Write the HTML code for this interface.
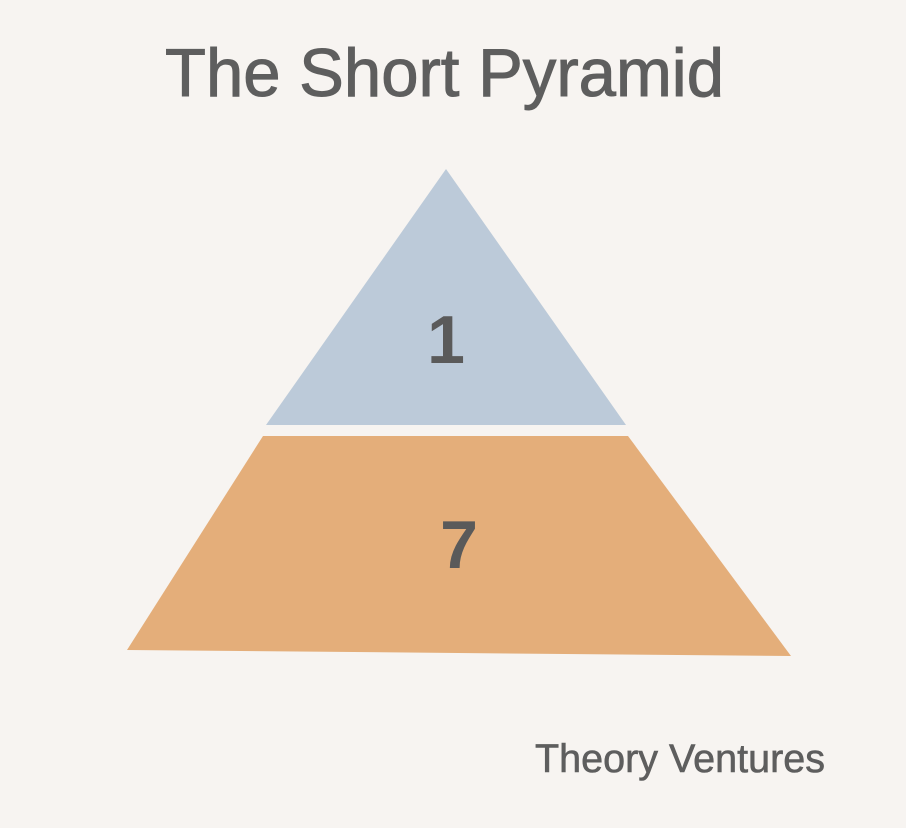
<!DOCTYPE html>
<html><head><meta charset="utf-8"><style>
html,body{margin:0;padding:0;background:#f7f4f1;}
svg{display:block;}
</style></head><body>
<svg width="906" height="828" viewBox="0 0 906 828" xmlns="http://www.w3.org/2000/svg">
<rect width="906" height="828" fill="#f7f4f1"/>
<text x="165" y="96" font-family="Liberation Sans, sans-serif" font-size="68" fill="#5e5e5e" stroke="#5e5e5e" stroke-width="1" textLength="559" lengthAdjust="spacingAndGlyphs">The Short Pyramid</text>
<polygon points="446,169 626,425 266,425" fill="#bccad9"/>
<polygon points="263,436 628,436 791,656 127,650" fill="#e4ae7a"/>
<text x="446" y="363" text-anchor="middle" font-family="Liberation Sans, sans-serif" font-weight="bold" font-size="68" fill="#5a5a5a">1</text>
<text x="459" y="568" text-anchor="middle" font-family="Liberation Sans, sans-serif" font-weight="bold" font-size="68" fill="#5a5a5a">7</text>
<text x="535" y="772" font-family="Liberation Sans, sans-serif" font-size="40" fill="#5e5e5e" stroke="#5e5e5e" stroke-width="0.6" textLength="290" lengthAdjust="spacingAndGlyphs">Theory Ventures</text>
</svg>
</body></html>
